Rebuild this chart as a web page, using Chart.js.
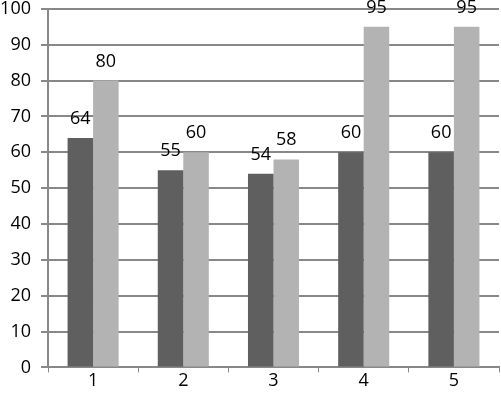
<!DOCTYPE html>
<html>
<head>
<meta charset="utf-8">
<script src="https://cdn.jsdelivr.net/npm/chart.js@4/dist/chart.umd.min.js"></script>
<style>
  html, body { margin: 0; padding: 0; background: #fff; }
  #wrap { width: 501px; height: 398px; overflow: hidden; }
  #inner { width: 501px; height: 410px; margin-top: -12px; }
</style>
</head>
<body>
<div id="wrap"><div id="inner"><canvas id="chart"></canvas></div></div>
<script>
// valores
const categories = ['1', '2', '3', '4', '5'];
const seriesA = [64, 55, 54, 60, 60];
const seriesB = [80, 60, 58, 95, 95];
const yTicks = [0, 10, 20, 30, 40, 50, 60, 70, 80, 90, 100];

const FONT = '"Open Sans", sans-serif';

// rótulos de valor acima das barras
const valueLabels = {
    id: 'valueLabels',
    afterDatasetsDraw(chart) {
        const ctx = chart.ctx;
        ctx.save();
        ctx.font = '18px ' + FONT;
        ctx.fillStyle = '#000';
        ctx.textAlign = 'center';
        ctx.textBaseline = 'alphabetic';
        chart.data.datasets.forEach((ds, i) => {
            chart.getDatasetMeta(i).data.forEach((bar, j) => {
                ctx.fillText(ds.data[j], bar.x, bar.y - 14);
            });
        });
        ctx.restore();
    }
};

new Chart(document.getElementById('chart'), {
    type: 'bar',
    data: {
        labels: categories,
        datasets: [
            { data: seriesA, backgroundColor: '#5f5f5f', barPercentage: 1, categoryPercentage: 0.566 },
            { data: seriesB, backgroundColor: '#b3b3b3', barPercentage: 1, categoryPercentage: 0.566 }
        ]
    },
    options: {
        responsive: true,
        maintainAspectRatio: false,
        animation: false,
        layout: { padding: { top: 0, right: 2, left: 0, bottom: 8 } },
        plugins: { legend: { display: false }, tooltip: { enabled: false } },
        scales: {
            x: {
                grid: { drawOnChartArea: false, offset: true, tickLength: 5, color: '#888' },
                border: { color: '#888', width: 2 },
                ticks: { font: { family: FONT, size: 18 }, color: '#000', padding: -2 }
            },
            y: {
                min: 0,
                max: 100,
                afterBuildTicks: axis => { axis.ticks = yTicks.map(v => ({ value: v })); },
                afterFit: axis => { axis.width = 48; },
                grid: { color: '#888', lineWidth: 2, tickLength: 7 },
                border: { color: '#888', width: 2 },
                ticks: { font: { family: FONT, size: 18 }, color: '#000', padding: 10 }
            }
        }
    },
    plugins: [valueLabels]
});
</script>
</body>
</html>
